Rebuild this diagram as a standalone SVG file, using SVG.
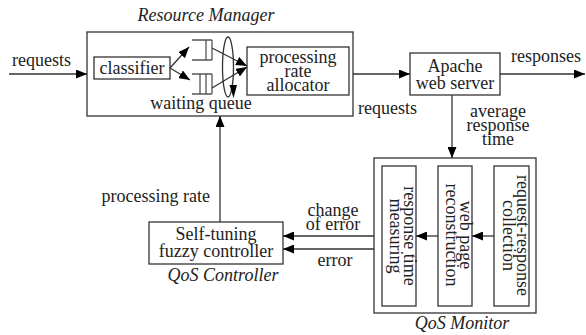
<svg xmlns="http://www.w3.org/2000/svg" width="586" height="335" viewBox="0 0 586 335">
<defs>
<marker id="ah" markerUnits="userSpaceOnUse" markerWidth="11" markerHeight="9" refX="11" refY="4.5" orient="auto">
<path d="M0,0 L11,4.5 L0,9 z" fill="#000"/>
</marker>
<style>
.it{font-style:italic}
.m{text-anchor:middle}
.box{fill:#fff;stroke:#333;stroke-width:1.3}
.ln{fill:none;stroke:#333;stroke-width:1.3}
.q{fill:none;stroke:#555;stroke-width:1.3}
</style>
</defs>
<rect width="586" height="335" fill="#fff"/>
<g font-family="Liberation Serif, DejaVu Serif, serif" font-size="18" fill="#222">
<g id="resource-manager">
<rect class="box" x="87" y="32" width="266" height="84"/>
<text class="it m" x="206" y="21">Resource Manager</text>
<text class="m" x="201" y="109">waiting queue</text>
</g>
<g id="classifier">
<rect class="box" x="94" y="57" width="76" height="22"/>
<text class="m" x="132" y="74">classifier</text>
</g>
<g id="queues">
<path class="q" d="M192,40 H212 M192,60 H212 M206,40 V60 M212,40 V60"/>
<path class="q" d="M192,74 H212 M192,94 H212 M200,74 V94 M206,74 V94 M212,74 V94"/>
<ellipse class="ln" cx="228" cy="67" rx="5.5" ry="30"/>
<path d="M229.5,85 L237,85 L233.5,98 z" fill="#000"/>
</g>
<g id="allocator">
<rect class="box" x="247" y="47" width="102" height="48"/>
<text class="m" x="298" y="63">processing</text>
<text class="m" x="298" y="77">rate</text>
<text class="m" x="298" y="91">allocator</text>
</g>
<g id="apache">
<rect class="box" x="410" y="53" width="90" height="42"/>
<text class="m" x="455" y="72">Apache</text>
<text class="m" x="455" y="89">web server</text>
</g>
<g id="qos-monitor">
<rect class="box" x="374" y="158" width="162" height="155"/>
<text class="it m" x="462" y="329">QoS Monitor</text>
</g>
<g id="response-time-measuring">
<rect class="box" x="382" y="166" width="34" height="140"/>
<text class="m" transform="translate(399,236) rotate(90)"><tspan x="0" y="-5">response time</tspan><tspan x="0" y="9">measuring</tspan></text>
</g>
<g id="web-page-reconstruction">
<rect class="box" x="438" y="166" width="34" height="140"/>
<text class="m" transform="translate(455,235) rotate(90)"><tspan x="0" y="-5">web page</tspan><tspan x="0" y="9">reconstruction</tspan></text>
</g>
<g id="request-response-collection">
<rect class="box" x="494" y="166" width="35" height="140"/>
<text class="m" transform="translate(511.5,235.5) rotate(90)"><tspan x="0" y="-5">request-response</tspan><tspan x="0" y="9">collection</tspan></text>
</g>
<g id="qos-controller">
<rect class="box" x="149" y="222" width="134" height="42"/>
<text class="m" x="216" y="240">Self-tuning</text>
<text class="m" x="216" y="257">fuzzy controller</text>
<text class="it m" x="223" y="281">QoS Controller</text>
</g>

<g id="connectors">
<line class="ln" x1="9" y1="74" x2="87" y2="74" marker-end="url(#ah)"/>
<line class="ln" x1="170" y1="68" x2="189" y2="47" marker-end="url(#ah)"/>
<line class="ln" x1="170" y1="68" x2="190" y2="80" marker-end="url(#ah)"/>
<line class="ln" x1="212" y1="48" x2="247" y2="66" marker-end="url(#ah)"/>
<line class="ln" x1="212" y1="88" x2="247" y2="67" marker-end="url(#ah)"/>
<line class="ln" x1="353" y1="74" x2="410" y2="74" marker-end="url(#ah)"/>
<line class="ln" x1="500" y1="74" x2="585" y2="74" marker-end="url(#ah)"/>
<line class="ln" x1="452" y1="95" x2="452" y2="158" marker-end="url(#ah)"/>
<line class="ln" x1="494" y1="236" x2="472" y2="236" marker-end="url(#ah)"/>
<line class="ln" x1="438" y1="236" x2="416" y2="236" marker-end="url(#ah)"/>
<line class="ln" x1="374" y1="236" x2="283" y2="236" marker-end="url(#ah)"/>
<line class="ln" x1="374" y1="249" x2="283" y2="249" marker-end="url(#ah)"/>
<line class="ln" x1="220" y1="222" x2="220" y2="116" marker-end="url(#ah)"/>
<text x="12" y="66">requests</text>
<text x="358" y="114">requests</text>
<text x="511" y="62">responses</text>
<text class="m" x="498" y="117">average</text>
<text class="m" x="498" y="131">response</text>
<text class="m" x="498" y="145">time</text>
<text x="210" y="202" text-anchor="end">processing rate</text>
<text class="m" x="333" y="216">change</text>
<text class="m" x="333" y="230">of error</text>
<text class="m" x="335" y="266">error</text>
</g>
</g>
</svg>
